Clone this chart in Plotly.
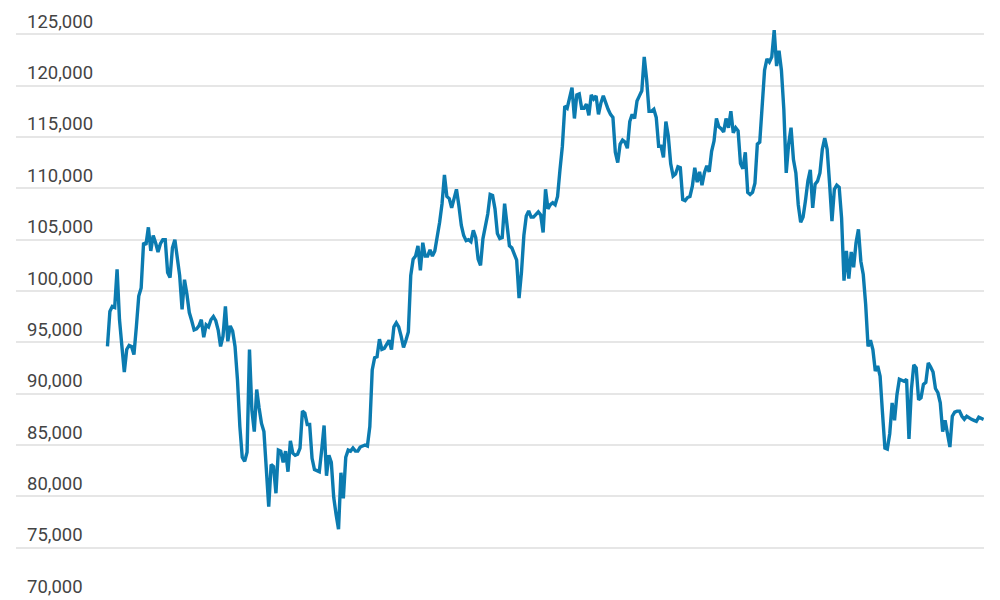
import pandas as pd
import plotly.graph_objects as go

# daily prices, 2 Jan 2025 .. 1 Jan 2026
start_date = "2025-01-02"
jan = [94600, 98000, 98500, 98400, 102100, 97200, 94600, 92100, 94300, 94700,
       94600, 93800, 96500, 99500, 100300, 104700, 104500, 106200, 103900, 105400,
       104700, 103800, 104600, 105000, 105000, 101800, 101300, 104200, 105000, 103100]
feb = [101500, 98200, 101100, 99700, 97900, 97100, 96200, 96300, 96600, 97200,
       95500, 96700, 96500, 97200, 97500, 97100, 96200, 94600, 95600, 98500,
       95100, 96600, 96100, 94600, 91400, 86800, 83800, 83400]
mar = [84300, 94300, 88400, 86300, 90400, 88600, 87100, 86300, 83000, 79000,
       83100, 82900, 80300, 84500, 84400, 83300, 84400, 82400, 85400, 84200,
       84000, 84100, 84700, 88300, 88100, 87000, 87000, 83700, 82600, 82500, 82400]
apr = [84500, 86900, 82000, 84000, 83300, 79900, 78200, 76800, 82300, 79800,
       83800, 84500, 84400, 84700, 84400, 84400, 84800, 84900, 85000, 84900,
       86800, 92300, 93500, 93600, 95300, 94300, 94400, 94800, 95200, 94300]
may = [96500, 96900, 96500, 95600, 94500, 95200, 96000, 101500, 103100, 103400,
       104400, 102000, 104700, 103400, 103400, 104000, 103400, 103900, 105100, 106700,
       108500, 111300, 109200, 109000, 108100, 109000, 109900, 108300, 106400, 105400, 104900]
jun = [105000, 104800, 105900, 105200, 103100, 102500, 105100, 106200, 107500, 109400,
       109300, 108000, 105600, 105100, 105200, 108500, 106400, 104400, 104200, 103600,
       103000, 99300, 101800, 105400, 107300, 107800, 107200, 107200, 107400, 107700]
jul = [107400, 105700, 109900, 108000, 108400, 108600, 108400, 109200, 111800, 114100,
       118000, 117800, 118800, 119800, 116800, 119100, 119200, 117800, 117800, 118200,
       117100, 119100, 118700, 119000, 117200, 118300, 119000, 118300, 117700, 117200, 116900]
aug = [113500, 112500, 114300, 114700, 114500, 113900, 116500, 117200, 116800, 118500,
       119000, 119500, 122800, 120600, 117500, 117500, 117700, 116900, 114100, 114100,
       113000, 116500, 115100, 112400, 111200, 111400, 112100, 112000, 108900, 108800, 109100]
sep = [109200, 110200, 112000, 110600, 111600, 110300, 111500, 112200, 111600, 113600,
       114600, 116800, 116000, 115800, 115500, 116800, 115900, 117500, 115400, 115900,
       115600, 112400, 111900, 113500, 109600, 109400, 109600, 110500, 114300, 114500]
oct_ = [118000, 121500, 122600, 122300, 122800, 125400, 121900, 123400, 121500, 117700,
        111500, 114300, 115900, 112800, 111500, 108400, 106700, 107200, 108800, 110700,
        111800, 108100, 110400, 110700, 111500, 113800, 114900, 113800, 110500, 106800, 109900]
nov = [110300, 110100, 107100, 101000, 103900, 101200, 103800, 102300, 104700, 106000,
       102900, 101600, 98700, 94600, 95200, 94300, 92200, 92700, 91700, 88100,
       84700, 84600, 86100, 89100, 87400, 89900, 91400, 91300, 91200, 91400]
dec = [85600, 90400, 92800, 92500, 89400, 89600, 90900, 91100, 93000, 92600,
       92100, 90500, 90100, 89100, 86300, 87400, 85900, 84800, 87800, 88200,
       88300, 88300, 87800, 87500, 87800, 87600, 87500, 87400, 87300, 87700, 87600]
jan_next = [87500]

y_ticks = list(range(70000, 125001, 5000))

prices = jan + feb + mar + apr + may + jun + jul + aug + sep + oct_ + nov + dec + jan_next
dates = pd.date_range(start_date, periods=len(prices), freq="D")

fig = go.Figure(go.Scatter(
    x=dates, y=prices, mode="lines",
    line=dict(color="#0b7bb0", width=3.4),
    hoverinfo="skip",
))

# page body adds an 8px margin, so the figure is sized to fill the rest
fig.update_layout(
    width=992, height=592,
    margin=dict(l=8, r=16, t=0, b=1),
    plot_bgcolor="white", paper_bgcolor="white",
    showlegend=False,
    font=dict(family="Roboto, Liberation Sans, sans-serif", size=18.5, color="#555555"),
)
fig.update_xaxes(
    range=["2024-11-25", "2026-01-01 04:00"],
    showgrid=False, zeroline=False,
    showticklabels=False,
    ticks="outside", ticklen=6, tickcolor="#cccccc", tickwidth=1,
    tick0="2025-01-01", dtick="M1",
    automargin=False,
)
fig.update_yaxes(
    range=[70000, 127560],
    tickvals=y_ticks, tickformat=",",
    ticklabelposition="inside top", ticklabelstandoff=8,
    showgrid=True, gridcolor="#e6e6e6", gridwidth=2,
    zeroline=False, showline=False, ticks="",
    automargin=False,
)

fig.write_html("out.html")
